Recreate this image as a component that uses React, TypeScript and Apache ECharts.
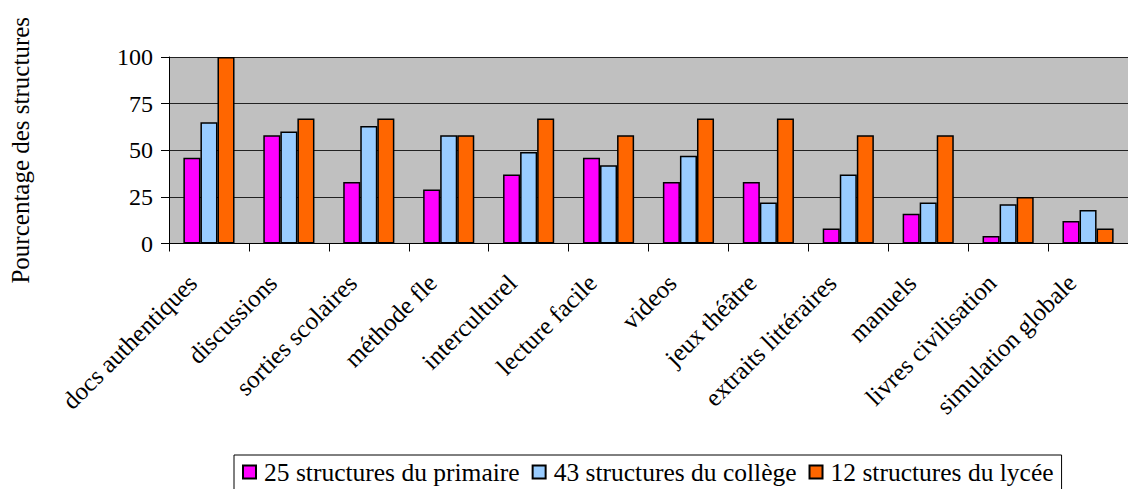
import React, { useEffect, useRef } from "react";
import * as echarts from "echarts";

const categories = [
  "docs authentiques",
  "discussions",
  "sorties scolaires",
  "méthode fle",
  "interculturel",
  "lecture facile",
  "videos",
  "jeux théâtre",
  "extraits littéraires",
  "manuels",
  "livres civilisation",
  "simulation globale",
];
const primaire = [46, 58, 33, 29, 37, 46, 33, 33, 8, 16, 4, 12];
const college = [65, 60, 63, 58, 49, 42, 47, 22, 37, 22, 21, 18];
const lycee = [100, 67, 67, 58, 67, 58, 67, 67, 58, 58, 25, 8];
const seriesNames = [
  "25 structures du primaire",
  "43 structures du collège",
  "12 structures du lycée",
];
const yTicks = { min: 0, max: 100, interval: 25 };

const FONT = "Liberation Serif";

export default function App() {
  const ref = useRef<HTMLDivElement>(null);
  useEffect(() => {
    if (!ref.current) return;
    const chart = echarts.init(ref.current, undefined, { renderer: "svg" });
    const colors = ["#FF00FF", "#99CCFF", "#FF6600"];
    const data = [primaire, college, lycee];
    chart.setOption({
      animation: false,
      textStyle: { fontFamily: FONT, color: "#000" },
      grid: {
        left: 169,
        top: 57,
        width: 968,
        height: 186.5,
        backgroundColor: "#C0C0C0",
        show: true,
        borderWidth: 0,
      },
      legend: {
        left: 234,
        top: 455,
        padding: [4, 8, 12, 8],
        borderColor: "#000",
        borderWidth: 1,
        itemGap: 12,
        itemWidth: 13,
        itemHeight: 13,
        icon: "rect",
        textStyle: { fontFamily: FONT, fontSize: 25.5, color: "#000", padding: [0, 0, 0, 3] },
        data: seriesNames,
      },
      xAxis: {
        type: "category",
        data: categories,
        axisLine: { lineStyle: { color: "#000", width: 1 } },
        axisTick: { show: true, length: 8, lineStyle: { color: "#000" } },
        axisLabel: {
          interval: 0,
          rotate: 45,
          margin: 19,
          padding: [0, 23, 0, 0],
          fontSize: 25,
          color: "#000",
          fontFamily: FONT,
        },
      },
      yAxis: {
        type: "value",
        min: yTicks.min,
        max: yTicks.max,
        interval: yTicks.interval,
        name: "Pourcentage des structures",
        nameLocation: "middle",
        nameGap: 136,
        nameTextStyle: { fontSize: 25, color: "#000", fontFamily: FONT },
        axisLine: { show: true, lineStyle: { color: "#000", width: 1 } },
        axisTick: { show: true, length: 8, lineStyle: { color: "#000" } },
        axisLabel: { margin: 16, fontSize: 24, color: "#000", fontFamily: FONT },
        splitLine: { show: true, lineStyle: { color: "#222", width: 1 } },
      },
      series: seriesNames.map((name, i) => ({
        name,
        type: "bar",
        data: data[i],
        barGap: "0%",
        barCategoryGap: "36%",
        itemStyle: { color: colors[i], borderColor: "#000", borderWidth: 1.5 },
      })),
    });
    return () => chart.dispose();
  }, []);
  return <div ref={ref} style={{ width: 1128, height: 489, position: "absolute", left: 0, top: 0 }} />;
}
